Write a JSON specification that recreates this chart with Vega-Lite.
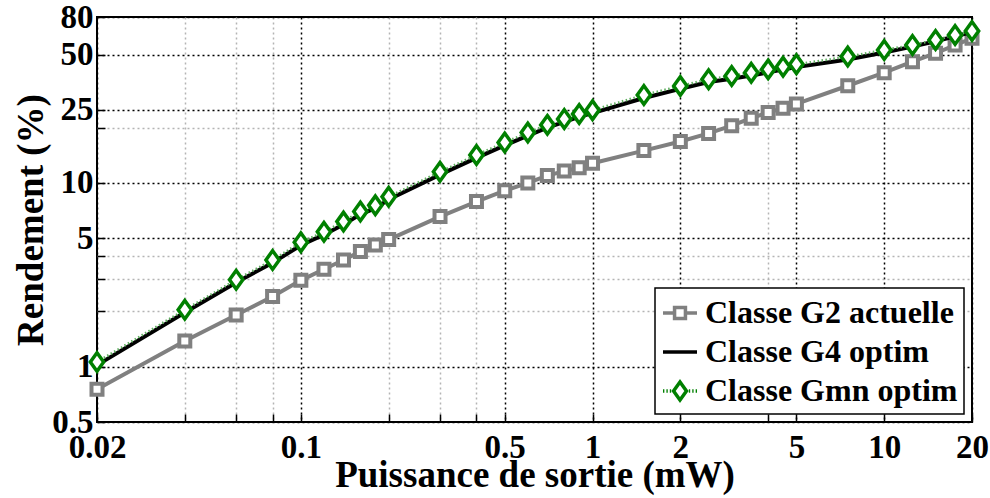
{
  "$schema": "https://vega.github.io/schema/vega-lite/v6.json",
  "width": 875,
  "height": 405,
  "autosize": {"type": "none"},
  "padding": {"left": 97, "top": 17, "right": 18, "bottom": 76},
  "background": "white",
  "config": {
    "view": {"stroke": "black", "strokeWidth": 2},
    "font": "Liberation Serif",
    "axis": {
      "labelFont": "Liberation Serif",
      "labelFontWeight": "bold",
      "labelFontSize": 33,
      "labelColor": "black",
      "titleFont": "Liberation Serif",
      "titleFontWeight": "bold",
      "titleFontSize": 37,
      "titleColor": "black",
      "domain": false,
      "ticks": true,
      "tickColor": "black",
      "tickWidth": 1.5,
      "labelOverlap": false,
      "labelFlush": false,
      "labelBound": false,
      "grid": true,
      "gridDash": [2, 3],
      "gridWidth": 1.5,
      "gridOpacity": 1
    },
    "legend": {
      "orient": "bottom-right",
      "offset": 8,
      "labelFont": "Liberation Serif",
      "labelFontSize": 32,
      "labelFontWeight": "bold",
      "labelColor": "black",
      "labelLimit": 400,
      "symbolSize": 1156,
      "symbolStrokeWidth": 3.5,
      "symbolOpacity": 1,
      "strokeColor": "black",
      "strokeWidth": 1.5,
      "fillColor": "white",
      "padding": 6,
      "rowPadding": 4,
      "labelOffset": 6
    }
  },
  "datasets": {
    "d": [
      {"p": 0.02, "r": 0.754, "s": "Classe G2 actuelle"},
      {"p": 0.04, "r": 1.38, "s": "Classe G2 actuelle"},
      {"p": 0.06, "r": 1.91, "s": "Classe G2 actuelle"},
      {"p": 0.08, "r": 2.41, "s": "Classe G2 actuelle"},
      {"p": 0.1, "r": 2.95, "s": "Classe G2 actuelle"},
      {"p": 0.12, "r": 3.39, "s": "Classe G2 actuelle"},
      {"p": 0.14, "r": 3.81, "s": "Classe G2 actuelle"},
      {"p": 0.16, "r": 4.23, "s": "Classe G2 actuelle"},
      {"p": 0.18, "r": 4.6, "s": "Classe G2 actuelle"},
      {"p": 0.2, "r": 4.92, "s": "Classe G2 actuelle"},
      {"p": 0.3, "r": 6.56, "s": "Classe G2 actuelle"},
      {"p": 0.4, "r": 7.92, "s": "Classe G2 actuelle"},
      {"p": 0.5, "r": 9.08, "s": "Classe G2 actuelle"},
      {"p": 0.6, "r": 10.0, "s": "Classe G2 actuelle"},
      {"p": 0.7, "r": 10.96, "s": "Classe G2 actuelle"},
      {"p": 0.8, "r": 11.6, "s": "Classe G2 actuelle"},
      {"p": 0.9, "r": 12.1, "s": "Classe G2 actuelle"},
      {"p": 1, "r": 12.8, "s": "Classe G2 actuelle"},
      {"p": 1.5, "r": 15.0, "s": "Classe G2 actuelle"},
      {"p": 2, "r": 16.8, "s": "Classe G2 actuelle"},
      {"p": 2.5, "r": 18.6, "s": "Classe G2 actuelle"},
      {"p": 3, "r": 20.5, "s": "Classe G2 actuelle"},
      {"p": 3.5, "r": 22.5, "s": "Classe G2 actuelle"},
      {"p": 4, "r": 24.2, "s": "Classe G2 actuelle"},
      {"p": 4.5, "r": 25.5, "s": "Classe G2 actuelle"},
      {"p": 5, "r": 26.9, "s": "Classe G2 actuelle"},
      {"p": 7.5, "r": 33.8, "s": "Classe G2 actuelle"},
      {"p": 10, "r": 39.8, "s": "Classe G2 actuelle"},
      {"p": 12.5, "r": 45.7, "s": "Classe G2 actuelle"},
      {"p": 15, "r": 50.8, "s": "Classe G2 actuelle"},
      {"p": 17.5, "r": 56.3, "s": "Classe G2 actuelle"},
      {"p": 20, "r": 61.3, "s": "Classe G2 actuelle"},
      {"p": 0.02, "r": 1.02, "s": "Classe G4 optim"},
      {"p": 0.04, "r": 1.97, "s": "Classe G4 optim"},
      {"p": 0.06, "r": 2.87, "s": "Classe G4 optim"},
      {"p": 0.08, "r": 3.68, "s": "Classe G4 optim"},
      {"p": 0.1, "r": 4.58, "s": "Classe G4 optim"},
      {"p": 0.12, "r": 5.23, "s": "Classe G4 optim"},
      {"p": 0.14, "r": 5.94, "s": "Classe G4 optim"},
      {"p": 0.16, "r": 6.75, "s": "Classe G4 optim"},
      {"p": 0.18, "r": 7.29, "s": "Classe G4 optim"},
      {"p": 0.2, "r": 8.12, "s": "Classe G4 optim"},
      {"p": 0.3, "r": 11.1, "s": "Classe G4 optim"},
      {"p": 0.4, "r": 13.7, "s": "Classe G4 optim"},
      {"p": 0.5, "r": 16.0, "s": "Classe G4 optim"},
      {"p": 0.6, "r": 18.1, "s": "Classe G4 optim"},
      {"p": 0.7, "r": 20.0, "s": "Classe G4 optim"},
      {"p": 0.8, "r": 21.5, "s": "Classe G4 optim"},
      {"p": 0.9, "r": 22.9, "s": "Classe G4 optim"},
      {"p": 1, "r": 24.0, "s": "Classe G4 optim"},
      {"p": 1.5, "r": 29.0, "s": "Classe G4 optim"},
      {"p": 2, "r": 32.5, "s": "Classe G4 optim"},
      {"p": 2.5, "r": 35.4, "s": "Classe G4 optim"},
      {"p": 3, "r": 36.9, "s": "Classe G4 optim"},
      {"p": 3.5, "r": 38.4, "s": "Classe G4 optim"},
      {"p": 4, "r": 40.0, "s": "Classe G4 optim"},
      {"p": 4.5, "r": 41.4, "s": "Classe G4 optim"},
      {"p": 5, "r": 42.7, "s": "Classe G4 optim"},
      {"p": 7.5, "r": 47.0, "s": "Classe G4 optim"},
      {"p": 10, "r": 51.3, "s": "Classe G4 optim"},
      {"p": 12.5, "r": 55.2, "s": "Classe G4 optim"},
      {"p": 15, "r": 59.0, "s": "Classe G4 optim"},
      {"p": 17.5, "r": 62.8, "s": "Classe G4 optim"},
      {"p": 20, "r": 66.3, "s": "Classe G4 optim"},
      {"p": 0.02, "r": 1.06, "s": "Classe Gmn optim"},
      {"p": 0.04, "r": 2.04, "s": "Classe Gmn optim"},
      {"p": 0.06, "r": 2.97, "s": "Classe Gmn optim"},
      {"p": 0.08, "r": 3.81, "s": "Classe Gmn optim"},
      {"p": 0.1, "r": 4.75, "s": "Classe Gmn optim"},
      {"p": 0.12, "r": 5.42, "s": "Classe Gmn optim"},
      {"p": 0.14, "r": 6.16, "s": "Classe Gmn optim"},
      {"p": 0.16, "r": 7.0, "s": "Classe Gmn optim"},
      {"p": 0.18, "r": 7.55, "s": "Classe Gmn optim"},
      {"p": 0.2, "r": 8.42, "s": "Classe Gmn optim"},
      {"p": 0.3, "r": 11.5, "s": "Classe Gmn optim"},
      {"p": 0.4, "r": 14.2, "s": "Classe Gmn optim"},
      {"p": 0.5, "r": 16.6, "s": "Classe Gmn optim"},
      {"p": 0.6, "r": 18.8, "s": "Classe Gmn optim"},
      {"p": 0.7, "r": 20.7, "s": "Classe Gmn optim"},
      {"p": 0.8, "r": 22.3, "s": "Classe Gmn optim"},
      {"p": 0.9, "r": 23.7, "s": "Classe Gmn optim"},
      {"p": 1, "r": 24.9, "s": "Classe Gmn optim"},
      {"p": 1.5, "r": 30.1, "s": "Classe Gmn optim"},
      {"p": 2, "r": 33.7, "s": "Classe Gmn optim"},
      {"p": 2.5, "r": 36.7, "s": "Classe Gmn optim"},
      {"p": 3, "r": 38.2, "s": "Classe Gmn optim"},
      {"p": 3.5, "r": 39.8, "s": "Classe Gmn optim"},
      {"p": 4, "r": 41.5, "s": "Classe Gmn optim"},
      {"p": 4.5, "r": 42.9, "s": "Classe Gmn optim"},
      {"p": 5, "r": 44.2, "s": "Classe Gmn optim"},
      {"p": 7.5, "r": 48.7, "s": "Classe Gmn optim"},
      {"p": 10, "r": 52.9, "s": "Classe Gmn optim"},
      {"p": 12.5, "r": 56.3, "s": "Classe Gmn optim"},
      {"p": 15, "r": 60.0, "s": "Classe Gmn optim"},
      {"p": 17.5, "r": 63.8, "s": "Classe Gmn optim"},
      {"p": 20, "r": 67.1, "s": "Classe Gmn optim"}
    ]
  },
  "data": {"name": "d"},
  "encoding": {
    "x": {
      "field": "p",
      "type": "quantitative",
      "scale": {"type": "log", "domain": [0.02, 20], "nice": false},
      "title": "Puissance de sortie (mW)",
      "axis": {
        "values": [0.02, 0.04, 0.06, 0.08, 0.1, 0.2, 0.3, 0.4, 0.5, 1, 2, 4, 5, 10, 20],
        "labelExpr": "indexof([0.02, 0.1, 0.5, 1, 2, 5, 10, 20], datum.value) >= 0 ? format(datum.value, '~g') : ''",
        "tickSize": -8,
        "labelPadding": 17,
        "gridColor": {"condition": {"test": "indexof([0.02, 0.1, 0.5, 1, 2, 5, 10, 20], datum.value) >= 0", "value": "black"}, "value": "#b4b4b4"},
        "titleX": 437.5,
        "titleY": 64,
        "titleBaseline": "alphabetic",
        "titleAnchor": "middle"
      }
    },
    "y": {
      "field": "r",
      "type": "quantitative",
      "scale": {"type": "log", "domain": [0.5, 80], "nice": false},
      "title": "Rendement (%)",
      "axis": {
        "values": [0.5, 1, 2, 3, 4, 5, 10, 20, 25, 50, 80],
        "labelExpr": "indexof([0.5, 1, 5, 10, 25, 50, 80], datum.value) >= 0 ? format(datum.value, '~g') : ''",
        "tickSize": -8,
        "labelPadding": 12,
        "gridColor": {"condition": {"test": "indexof([0.5, 1, 5, 10, 25, 50, 80], datum.value) >= 0", "value": "black"}, "value": "#b4b4b4"},
        "titleX": -55,
        "titleY": 202.5,
        "titleAngle": 270,
        "titleBaseline": "alphabetic",
        "titleAnchor": "middle"
      }
    }
  },
  "layer": [
    {
      "transform": [{"filter": "datum.s === 'Classe G2 actuelle'"}],
      "mark": {"type": "line", "color": "#808080", "strokeWidth": 4}
    },
    {
      "transform": [{"filter": "datum.s === 'Classe G2 actuelle'"}],
      "mark": {"type": "point", "shape": "square", "size": 121, "filled": true, "fill": "white", "stroke": "#808080", "strokeWidth": 4, "opacity": 1}
    },
    {
      "transform": [{"filter": "datum.s === 'Classe G4 optim'"}],
      "mark": {"type": "line", "color": "black", "strokeWidth": 4}
    },
    {
      "transform": [{"filter": "datum.s === 'Classe Gmn optim'"}],
      "mark": {"type": "line", "color": "#5fae5f", "strokeWidth": 2.5, "strokeDash": [1.5, 2.5]}
    },
    {
      "transform": [{"filter": "datum.s === 'Classe Gmn optim'"}],
      "mark": {"type": "point", "shape": "M0,-1L0.72,0L0,1L-0.72,0Z", "size": 342, "filled": true, "fill": "white", "stroke": "#008000", "strokeWidth": 3.5, "opacity": 1}
    },
    {
      "transform": [{"filter": "false"}],
      "mark": {"type": "point", "filled": false, "strokeWidth": 3.5, "opacity": 1},
      "encoding": {
        "color": {
          "field": "s",
          "type": "nominal",
          "scale": {"domain": ["Classe G2 actuelle", "Classe G4 optim", "Classe Gmn optim"], "range": ["#808080", "black", "#008000"]},
          "legend": {"title": null}
        },
        "shape": {
          "field": "s",
          "type": "nominal",
          "scale": {
            "domain": ["Classe G2 actuelle", "Classe G4 optim", "Classe Gmn optim"],
            "range": [
              "M-1,0H-0.32M0.32,0H1M-0.32,-0.32H0.32V0.32H-0.32Z",
              "M-1,0H1",
              "M-1,0H-0.92M-0.8,0H-0.72M-0.6,0H-0.52M0.52,0H0.6M0.72,0H0.8M0.92,0H1M0,-0.53L0.38,0L0,0.53L-0.38,0Z"
            ]
          },
          "legend": {"title": null}
        }
      }
    }
  ]
}
